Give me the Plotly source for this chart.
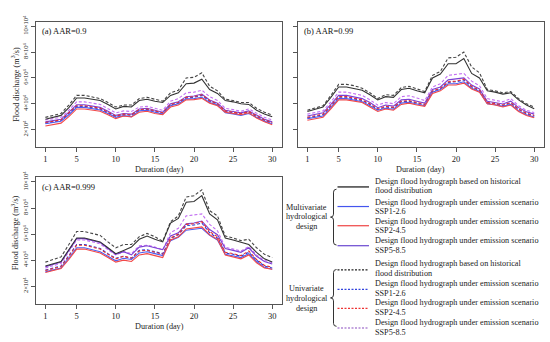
import plotly.graph_objects as go

# ---------------- data (discharge in 10^4 m3/s) ----------------
days = list(range(1, 31))
x_ticks = [1, 5, 10, 15, 20, 25, 30]
y_ticks = [2, 4, 6, 8, 10]
y_tick_text = ["2×10<sup>4</sup>", "4×10<sup>4</sup>", "6×10<sup>4</sup>", "8×10<sup>4</sup>", "10×10<sup>4</sup>"]

# Panel (a) AAR=0.9
a_multi_hist = [2.8, 2.95, 3.1, 3.7, 4.45, 4.45, 4.35, 4.25, 3.95, 3.6, 3.8, 3.75, 4.25, 4.35, 4.2, 4.1, 4.65, 4.85, 5.55, 5.6, 5.9, 5.1, 4.8, 4.25, 4.15, 4.0, 3.95, 3.5, 3.2, 3.0]
a_multi_ssp126 = [2.45, 2.55, 2.65, 3.15, 3.72, 3.72, 3.62, 3.52, 3.25, 2.95, 3.08, 3.0, 3.45, 3.5, 3.35, 3.2, 3.85, 4.0, 4.38, 4.4, 4.5, 4.1, 3.9, 3.3, 3.22, 3.1, 3.25, 2.92, 2.65, 2.45]
a_multi_ssp245 = [2.28, 2.4, 2.5, 3.0, 3.6, 3.6, 3.5, 3.42, 3.15, 2.85, 3.05, 2.98, 3.35, 3.42, 3.25, 3.15, 3.75, 3.9, 4.3, 4.32, 4.42, 4.05, 3.85, 3.35, 3.25, 3.15, 3.3, 2.9, 2.6, 2.38]
a_multi_ssp585 = [2.6, 2.7, 2.8, 3.35, 3.92, 3.92, 3.82, 3.72, 3.42, 3.1, 3.25, 3.2, 3.6, 3.65, 3.5, 3.35, 4.0, 4.15, 4.55, 4.6, 4.75, 4.3, 4.05, 3.5, 3.4, 3.3, 3.45, 3.1, 2.8, 2.6]
a_uni_hist = [2.95, 3.1, 3.25, 3.9, 4.65, 4.65, 4.55, 4.4, 4.1, 3.75, 3.9, 3.9, 4.4, 4.5, 4.35, 4.2, 4.85, 5.05, 6.0, 6.05, 6.4, 5.35, 5.0, 4.35, 4.25, 4.1, 4.1, 3.65, 3.35, 3.12]
a_uni_ssp126 = [2.5, 2.6, 2.7, 3.25, 3.8, 3.8, 3.7, 3.6, 3.3, 3.0, 3.15, 3.1, 3.5, 3.56, 3.4, 3.27, 3.9, 4.05, 4.45, 4.5, 4.65, 4.2, 3.95, 3.4, 3.3, 3.2, 3.35, 3.0, 2.72, 2.5]
a_uni_ssp245 = [2.55, 2.65, 2.75, 3.3, 3.85, 3.85, 3.75, 3.65, 3.35, 3.05, 3.2, 3.15, 3.55, 3.6, 3.45, 3.3, 3.95, 4.1, 4.5, 4.55, 4.7, 4.25, 4.0, 3.45, 3.35, 3.25, 3.4, 3.05, 2.75, 2.55]
a_uni_ssp585 = [2.75, 2.85, 2.95, 3.5, 4.15, 4.15, 4.05, 3.95, 3.62, 3.3, 3.45, 3.4, 3.75, 3.8, 3.65, 3.5, 4.2, 4.4, 4.85, 4.9, 5.05, 4.55, 4.25, 3.65, 3.55, 3.42, 3.6, 3.25, 2.95, 2.75]

# Panel (b) AAR=0.99
b_multi_hist = [3.4, 3.55, 3.75, 4.5, 5.3, 5.3, 5.2, 5.05, 4.7, 4.3, 4.55, 4.5, 5.1, 5.2, 5.0, 4.85, 6.0, 6.3, 7.1, 7.1, 7.5, 6.35, 6.0, 5.0, 4.9, 4.75, 4.85, 4.3, 3.9, 3.62]
b_multi_ssp126 = [2.85, 2.95, 3.05, 3.7, 4.4, 4.4, 4.3, 4.15, 3.85, 3.5, 3.65, 3.58, 4.05, 4.12, 3.98, 3.85, 4.9, 5.1, 5.55, 5.55, 5.7, 5.2, 4.95, 4.0, 3.93, 3.8, 3.95, 3.45, 3.15, 2.98]
b_multi_ssp245 = [2.72, 2.85, 2.95, 3.6, 4.3, 4.3, 4.2, 4.1, 3.75, 3.4, 3.6, 3.5, 3.95, 4.05, 3.9, 3.8, 4.8, 5.0, 5.45, 5.45, 5.6, 5.15, 4.9, 4.0, 3.9, 3.75, 3.9, 3.4, 3.1, 2.92]
b_multi_ssp585 = [3.05, 3.15, 3.3, 3.95, 4.65, 4.65, 4.55, 4.4, 4.1, 3.7, 3.9, 3.82, 4.3, 4.35, 4.2, 4.05, 5.1, 5.3, 5.85, 5.9, 6.0, 5.45, 5.15, 4.2, 4.1, 3.98, 4.2, 3.7, 3.38, 3.2]
b_uni_hist = [3.5, 3.65, 3.85, 4.65, 5.5, 5.5, 5.4, 5.2, 4.85, 4.4, 4.7, 4.65, 5.25, 5.35, 5.15, 4.95, 6.2, 6.5, 7.55, 7.6, 8.0, 6.85, 6.4, 5.1, 5.0, 4.85, 4.95, 4.4, 4.0, 3.75]
b_uni_ssp126 = [2.9, 3.0, 3.15, 3.8, 4.5, 4.5, 4.4, 4.25, 3.95, 3.55, 3.75, 3.68, 4.15, 4.2, 4.05, 3.9, 4.95, 5.15, 5.65, 5.7, 5.85, 5.3, 5.0, 4.05, 3.98, 3.85, 4.05, 3.55, 3.22, 3.05]
b_uni_ssp245 = [2.95, 3.05, 3.2, 3.85, 4.55, 4.55, 4.45, 4.3, 4.0, 3.6, 3.8, 3.72, 4.2, 4.25, 4.1, 3.95, 5.0, 5.2, 5.7, 5.75, 5.9, 5.35, 5.05, 4.1, 4.02, 3.9, 4.1, 3.6, 3.28, 3.1]
b_uni_ssp585 = [3.2, 3.3, 3.45, 4.15, 4.9, 4.9, 4.8, 4.65, 4.3, 3.9, 4.1, 4.0, 4.55, 4.62, 4.45, 4.25, 5.3, 5.55, 6.2, 6.25, 6.35, 5.75, 5.4, 4.4, 4.3, 4.15, 4.4, 3.85, 3.5, 3.32]

# Panel (c) AAR=0.999
c_multi_hist = [3.55, 3.75, 3.9, 4.8, 5.7, 5.7, 5.55, 5.4, 4.95, 4.5, 4.75, 5.0, 5.6, 5.85, 5.6, 5.4, 6.85, 7.2, 8.45, 8.5, 8.95, 7.55, 7.1, 5.7, 5.55, 5.35, 5.2, 4.6, 4.1, 3.85]
c_multi_ssp126 = [3.1, 3.25, 3.4, 4.15, 4.95, 4.95, 4.8, 4.65, 4.3, 3.95, 4.15, 4.05, 4.55, 4.65, 4.5, 4.35, 5.5, 5.75, 6.3, 6.35, 6.45, 5.9, 5.55, 4.45, 4.35, 4.2, 4.5, 3.9, 3.45, 3.3]
c_multi_ssp245 = [3.05, 3.2, 3.35, 4.05, 4.85, 4.85, 4.7, 4.55, 4.2, 3.85, 4.0, 3.9, 4.4, 4.5, 4.35, 4.2, 5.55, 5.8, 6.4, 6.45, 6.55, 5.95, 5.6, 4.4, 4.25, 4.1, 4.4, 3.8, 3.4, 3.3]
c_multi_ssp585 = [3.5, 3.7, 3.85, 4.75, 5.65, 5.65, 5.5, 5.35, 4.9, 4.45, 4.65, 4.4, 5.0, 5.1, 4.95, 4.8, 5.85, 6.1, 6.8, 6.85, 7.0, 6.35, 5.95, 4.9, 4.75, 4.6, 4.95, 4.3, 3.9, 3.7]
c_uni_hist = [3.85, 4.05, 4.25, 5.2, 6.2, 6.2, 6.05, 5.9, 5.4, 4.95, 5.2, 5.2, 5.8, 6.05, 5.8, 5.45, 6.95, 7.4, 8.85, 8.95, 9.4, 7.8, 7.4, 5.85, 5.7, 5.5, 5.6, 4.95, 4.45, 4.2]
c_uni_ssp126 = [3.25, 3.4, 3.55, 4.35, 5.2, 5.2, 5.05, 4.9, 4.5, 4.15, 4.3, 4.15, 4.75, 4.8, 4.65, 4.5, 5.65, 5.95, 6.65, 6.7, 6.85, 6.1, 5.7, 4.55, 4.45, 4.3, 4.6, 4.0, 3.55, 3.4]
c_uni_ssp245 = [3.2, 3.35, 3.5, 4.3, 5.15, 5.15, 5.0, 4.85, 4.45, 4.1, 4.3, 4.15, 4.7, 4.75, 4.6, 4.45, 5.7, 6.0, 6.75, 6.8, 6.95, 6.2, 5.8, 4.6, 4.5, 4.35, 4.7, 4.05, 3.6, 3.45]
c_uni_ssp585 = [3.4, 3.6, 3.75, 4.65, 5.55, 5.55, 5.4, 5.25, 4.8, 4.4, 4.65, 4.5, 5.1, 5.15, 5.0, 4.8, 6.1, 6.45, 7.4, 7.45, 7.55, 6.75, 6.25, 5.0, 4.85, 4.7, 5.05, 4.4, 4.0, 3.8]

panel_labels = ["(a) AAR=0.9", "(b) AAR=0.99", "(c) AAR=0.999"]
legend_labels = [
    ["Design flood hydrograph based on historical", "flood distribution"],
    ["Design flood hydrograph under emission scenario", "SSP1-2.6"],
    ["Design flood hydrograph under emission scenario", "SSP2-4.5"],
    ["Design flood hydrograph under emission scenario", "SSP5-8.5"],
]
group_labels = [["Multivariate", "hydrological", "design"], ["Univariate", "hydrological", "design"]]

# ---------------- styles ----------------
W, H = 550, 342
FONT = "Liberation Serif, Times New Roman, serif"
styles = {
    "uni_ssp585": dict(color="#C36EF2", dash="3px,2px"),
    "multi_ssp585": dict(color="#7B3FD4", dash="solid"),
    "uni_ssp126": dict(color="#2B3BD9", dash="3px,2px"),
    "uni_ssp245": dict(color="#E62E2E", dash="3px,2px"),
    "multi_ssp126": dict(color="#4C5EF2", dash="solid"),
    "multi_ssp245": dict(color="#F24848", dash="solid"),
    "uni_hist": dict(color="#444444", dash="3px,2px"),
    "multi_hist": dict(color="#333333", dash="solid"),
}
panels = [
    dict(multi_hist=a_multi_hist, multi_ssp126=a_multi_ssp126, multi_ssp245=a_multi_ssp245, multi_ssp585=a_multi_ssp585,
         uni_hist=a_uni_hist, uni_ssp126=a_uni_ssp126, uni_ssp245=a_uni_ssp245, uni_ssp585=a_uni_ssp585),
    dict(multi_hist=b_multi_hist, multi_ssp126=b_multi_ssp126, multi_ssp245=b_multi_ssp245, multi_ssp585=b_multi_ssp585,
         uni_hist=b_uni_hist, uni_ssp126=b_uni_ssp126, uni_ssp245=b_uni_ssp245, uni_ssp585=b_uni_ssp585),
    dict(multi_hist=c_multi_hist, multi_ssp126=c_multi_ssp126, multi_ssp245=c_multi_ssp245, multi_ssp585=c_multi_ssp585,
         uni_hist=c_uni_hist, uni_ssp126=c_uni_ssp126, uni_ssp245=c_uni_ssp245, uni_ssp585=c_uni_ssp585),
]

def px(x):
    return x / W

def py(y):
    return 1 - y / H

# panel frames in pixels: (left, right, top, bottom)
frames = [(36, 282, 15, 143), (298, 544, 15, 143), (36, 282, 174, 303)]

fig = go.Figure()
for i, data in enumerate(panels):
    suffix = "" if i == 0 else str(i + 1)
    for key in ["uni_ssp585", "multi_ssp585", "uni_ssp126", "uni_ssp245", "multi_ssp126", "multi_ssp245", "uni_hist", "multi_hist"]:
        st = styles[key]
        fig.add_trace(go.Scatter(x=days, y=data[key], mode="lines", showlegend=False,
                                 line=dict(color=st["color"], dash=st["dash"], width=1.1),
                                 xaxis="x" + suffix, yaxis="y" + suffix, hoverinfo="skip"))

axis_common = dict(showline=True, mirror=True, linecolor="#555555", linewidth=1, ticks="outside",
                   ticklen=4, tickcolor="#555555", tickwidth=1, showgrid=False, zeroline=False)
layout = {}
for i, (l, r, t, b) in enumerate(frames):
    suffix = "" if i == 0 else str(i + 1)
    layout["xaxis" + suffix] = dict(axis_common, domain=[px(l), px(r)], range=[-0.2, 31.25],
                                    tickvals=x_ticks, anchor="y" + suffix,
                                    tickfont=dict(family=FONT, size=8.5, color="#222222"))
    layout["yaxis" + suffix] = dict(axis_common, domain=[py(b), py(t)], range=[0.65, 10.35],
                                    tickvals=y_ticks, ticktext=y_tick_text, tickangle=-90,
                                    showticklabels=(i != 1), anchor="x" + suffix,
                                    tickfont=dict(family=FONT, size=6.5, color="#222222"))
fig.update_layout(**layout)

ann = []

def text(x, y, s, size=8.2, xanchor="center", angle=0, color="#222222"):
    ann.append(dict(x=px(x), y=py(y), xref="paper", yref="paper", text=s, textangle=angle,
                    xanchor=xanchor, yanchor="middle", showarrow=False,
                    font=dict(family=FONT, size=size, color=color)))

# panel labels
for i, (l, r, t, b) in enumerate(frames):
    text(l + 3.5, t + 9.5, panel_labels[i], size=8.5, xanchor="left", color="#111111")
# axis titles
for (cx, cy) in [(159, 165.7), (420.3, 165.7), (159, 326)]:
    text(cx, cy, "Duration (day)")
for cy in [79.5, 231]:
    text(15, cy, "Flood discharge (m<sup>3</sup>/s)", angle=-90)

shapes = []
# legend
legend_line_y = [[183.7, 203.7, 223.3, 243.7], [268.3, 288.3, 307.7, 327.7]]
legend_text_y = [[177.7, 199.3, 218.7, 238.7], [262.0, 282.7, 302.0, 322.3]]
group_keys = [["multi_hist", "multi_ssp126", "multi_ssp245", "multi_ssp585"],
              ["uni_hist", "uni_ssp126", "uni_ssp245", "uni_ssp585"]]
legend_colors = {"multi_hist": "#111111", "multi_ssp126": "#4455EE", "multi_ssp245": "#EE4444",
                 "multi_ssp585": "#6A48D0", "uni_hist": "#222222", "uni_ssp126": "#3344DD",
                 "uni_ssp245": "#EE3333", "uni_ssp585": "#8A4CC0"}
for g in range(2):
    for k in range(4):
        key = group_keys[g][k]
        shapes.append(dict(type="line", xref="paper", yref="paper", x0=px(337.5), x1=px(369),
                           y0=py(legend_line_y[g][k]), y1=py(legend_line_y[g][k]),
                           line=dict(color=legend_colors[key], width=1.2,
                                     dash="solid" if g == 0 else "2px,1.5px")))
        for j, line in enumerate(legend_labels[k]):
            text(372.5, legend_text_y[g][k] + j * 9.8, line, xanchor="left")
# group labels and braces
group_label_y = [[204.3, 214.3, 224.3], [287.5, 297.5, 307.5]]
brace_spans = [(186, 243, 214.5), (268, 326, 297)]
for g in range(2):
    for j, line in enumerate(group_labels[g]):
        text(306.7, group_label_y[g][j], line)
    yt, yb, ym = brace_spans[g]
    xb, w, rr = 333.5, 3, 3
    pts = [
        f"M {px(xb + w)},{py(yt)}",
        f"Q {px(xb)},{py(yt)} {px(xb)},{py(yt + rr)}",
        f"L {px(xb)},{py(ym - rr)}",
        f"Q {px(xb)},{py(ym)} {px(xb - w)},{py(ym)}",
        f"Q {px(xb)},{py(ym)} {px(xb)},{py(ym + rr)}",
        f"L {px(xb)},{py(yb - rr)}",
        f"Q {px(xb)},{py(yb)} {px(xb + w)},{py(yb)}",
    ]
    shapes.append(dict(type="path", xref="paper", yref="paper", path=" ".join(pts),
                       line=dict(color="#333333", width=1)))

fig.update_layout(width=W, height=H, margin=dict(l=0, r=0, t=0, b=0),
                  paper_bgcolor="white", plot_bgcolor="white",
                  annotations=ann, shapes=shapes, showlegend=False)
fig.write_html("out.html", config={"displayModeBar": False},
               post_script="document.body.style.margin='0';document.body.style.overflow='hidden';")
